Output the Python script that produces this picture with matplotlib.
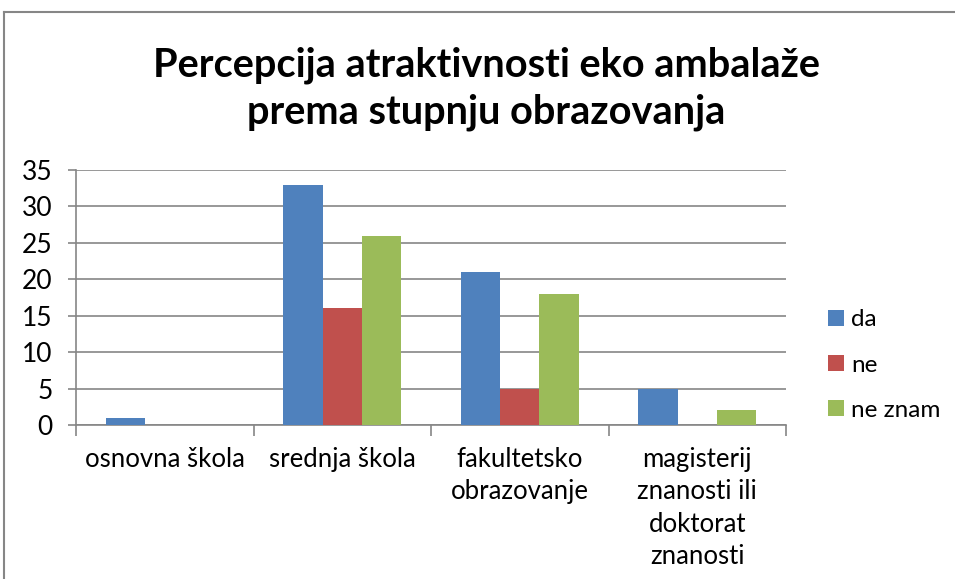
import numpy as np
import matplotlib.pyplot as plt
from matplotlib.lines import Line2D

categories = ["osnovna škola", "srednja škola", "fakultetsko\nobrazovanje",
              "magisterij\nznanosti ili\ndoktorat\nznanosti"]
da = [1, 33, 21, 5]
ne = [0, 16, 5, 0]
ne_znam = [0, 26, 18, 2]
series_names = ["da", "ne", "ne znam"]
colors = ["#4F81BD", "#C0504D", "#9BBB59"]

plt.rcParams['font.family'] = ['Lato', 'DejaVu Sans']

fig = plt.figure(figsize=(9.55, 5.79), dpi=100)
ax = fig.add_axes([76/955, 1-425/579, (786-76)/955, (425-170)/579])

x = np.arange(len(categories))
w = 1/4.5
for i, (vals, name, c) in enumerate(zip([da, ne, ne_znam], series_names, colors)):
    ax.bar(x + (i-1)*w, vals, width=w, color=c, label=name, zorder=3)

ax.set_xlim(-0.5, len(categories)-0.5)
ax.set_ylim(0, 35)
ax.set_yticks(range(0, 36, 5))
ax.yaxis.grid(True, color="#868686", linewidth=1.2, zorder=0)
ax.set_xticks(np.arange(-0.5, len(categories), 1))
ax.set_xticklabels([])
ax.set_xticks(x, minor=True)
ax.set_xticklabels(categories, minor=True, fontsize=18.5, linespacing=1.36, va="top")
ax.tick_params(axis="x", which="minor", length=0, pad=16)
ax.tick_params(axis="x", which="major", length=8, color="#868686", width=1.2)
ax.tick_params(axis="y", length=6, color="#868686", width=1.2, labelsize=19, pad=11)
for s in ["top", "right"]:
    ax.spines[s].set_visible(False)
for s in ["left", "bottom"]:
    ax.spines[s].set_color("#868686")
    ax.spines[s].set_linewidth(1.2)

fig.text(486/955, 1-89/579, "Percepcija atraktivnosti eko ambalaže\nprema stupnju obrazovanja",
         ha="center", va="center", fontsize=28.6, fontweight="bold", linespacing=1.3)

leg = ax.legend(loc="center left", bbox_to_anchor=((828-76)/710, (425-365)/255), frameon=False,
                fontsize=17.5, handlelength=0.65, handleheight=0.65, handletextpad=0.3,
                labelspacing=1.0, borderpad=0, borderaxespad=0)

# chart border
fig.add_artist(Line2D([4/955, 1], [1-12/579, 1-12/579], color="#868686", linewidth=1.5))
fig.add_artist(Line2D([4/955, 4/955], [0, 1-12/579], color="#868686", linewidth=1.5))

fig.savefig("out.png", dpi=100)
